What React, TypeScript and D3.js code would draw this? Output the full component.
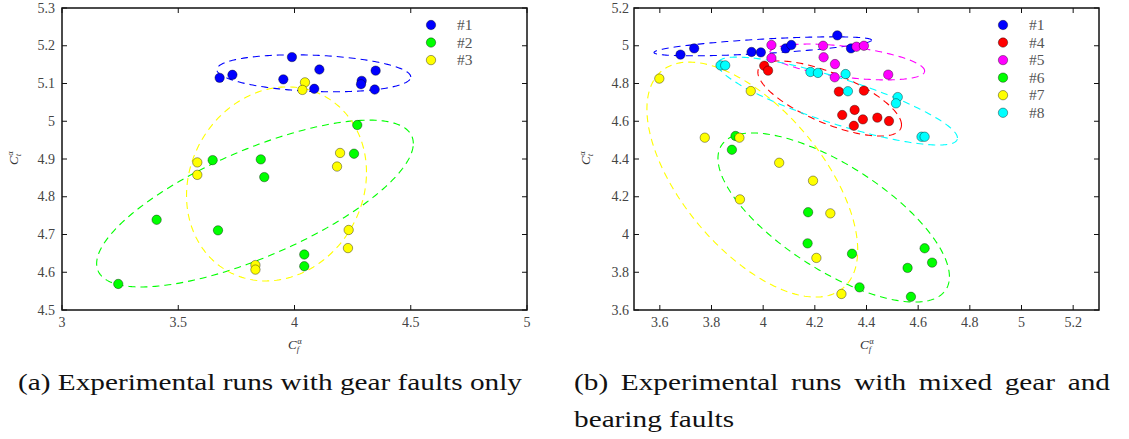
import React, { useLayoutEffect, useRef, useState } from "react";
import * as d3 from "d3";

// ---------- Panel (a): gear faults only ----------
const aRun1 = [[3.678, 5.115], [3.733, 5.123], [3.989, 5.17], [4.107, 5.137], [3.952, 5.111], [4.085, 5.086], [4.289, 5.107], [4.286, 5.098], [4.349, 5.134], [4.345, 5.084]];
const aRun2 = [[3.648, 4.897], [3.855, 4.899], [3.87, 4.852], [3.407, 4.739], [3.671, 4.711], [3.242, 4.569], [4.27, 4.99], [4.256, 4.914], [4.042, 4.647], [4.042, 4.616]];
const aRun3 = [[4.045, 5.103], [4.034, 5.083], [3.582, 4.891], [3.582, 4.858], [4.196, 4.916], [4.183, 4.88], [4.233, 4.712], [4.23, 4.664], [3.832, 4.619], [3.832, 4.607]];
// ellipse: [cx, cy, sx, sy, rho]
const aEll1 = [4.083, 5.127, 0.417, 0.049, -0.2];
const aEll2 = [3.83, 4.782, 0.681, 0.221, 0.72];
const aEll3 = [3.9226, 4.834, 0.387, 0.257, 0.12];
const aLabels = ["#1", "#2", "#3"];
const aColors = ["#0000ff", "#00ff00", "#ffff00"];
const aXTicks = [3, 3.5, 4, 4.5, 5];
const aYTicks = [4.5, 4.6, 4.7, 4.8, 4.9, 5, 5.1, 5.2, 5.3];

// ---------- Panel (b): mixed gear and bearing faults ----------
const bRun1 = [[3.68, 4.953], [3.733, 4.986], [3.955, 4.967], [3.991, 4.965], [4.087, 4.986], [4.109, 5.004], [4.287, 5.055], [4.34, 4.986]];
const bRun4 = [[4.004, 4.894], [4.019, 4.868], [4.293, 4.757], [4.306, 4.633], [4.39, 4.762], [4.354, 4.66], [4.351, 4.576], [4.386, 4.61], [4.442, 4.619], [4.487, 4.601]];
const bRun5 = [[4.032, 5.004], [4.032, 4.935], [4.232, 5.0], [4.234, 4.939], [4.278, 4.903], [4.277, 4.833], [4.361, 4.995], [4.39, 5.0], [4.484, 4.847]];
const bRun6 = [[3.893, 4.522], [3.879, 4.449], [4.174, 4.118], [4.172, 3.953], [4.344, 3.898], [4.373, 3.72], [4.625, 3.927], [4.654, 3.851], [4.559, 3.823], [4.572, 3.67]];
const bRun7 = [[3.598, 4.826], [3.952, 4.76], [3.774, 4.513], [3.908, 4.513], [4.062, 4.38], [4.193, 4.285], [3.91, 4.186], [4.26, 4.112], [4.206, 3.876], [4.303, 3.685]];
const bRun8 = [[3.835, 4.896], [3.853, 4.896], [4.183, 4.861], [4.212, 4.856], [4.319, 4.85], [4.328, 4.759], [4.521, 4.728], [4.514, 4.695], [4.613, 4.518], [4.625, 4.518]];
const bEll1 = [3.9986, 4.997, 0.421, 0.0503, 0.65];
const bEll4 = [4.2575, 4.7205, 0.278, 0.199, -0.7];
const bEll5 = [4.325, 4.914, 0.3, 0.095, -0.5];
const bEll6 = [4.273, 4.09, 0.448, 0.448, -0.7];
const bEll7 = [3.958, 4.291, 0.408, 0.6225, -0.6];
const bEll8 = [4.288, 4.707, 0.464, 0.233, -0.84];
const bLabels = ["#1", "#4", "#5", "#6", "#7", "#8"];
const bColors = ["#0000ff", "#ff0000", "#ff00ff", "#00ff00", "#ffff00", "#00ffff"];
const bXTicks = [3.6, 3.8, 4, 4.2, 4.4, 4.6, 4.8, 5, 5.2];
const bYTicks = [3.6, 3.8, 4, 4.2, 4.4, 4.6, 4.8, 5, 5.2];

const captionA = "(a) Experimental runs with gear faults only";
const captionB1 = "(b) Experimental runs with mixed gear and";
const captionB2 = "bearing faults";

const FONT = "'Liberation Serif', 'Times New Roman', serif";
const TICK_COLOR = "#444";

function ellipsePoints(e: number[]) {
  const [cx, cy, sx, sy, r] = e;
  const k = Math.sqrt(1 - r * r);
  return d3.range(0, 241).map((i) => {
    const t = (i / 240) * Math.PI * 2;
    return [cx + sx * Math.cos(t), cy + sy * (r * Math.cos(t) + k * Math.sin(t))];
  });
}

function fmt(v: number) {
  return d3.format("~g")(+v.toFixed(2));
}

function AxisLabel({ x, y, sub, rotate }: { x: number; y: number; sub: string; rotate?: boolean }) {
  return (
    <g transform={`translate(${x},${y})${rotate ? " rotate(-90)" : ""}`}>
      <text x={-6} y={0} fontFamily={FONT} fontSize={13} fill="#333">
        <tspan fontStyle="italic">C</tspan>
        <tspan dx={0.5} dy={-5} fontSize={8.5}>α</tspan>
        <tspan dx={-5} dy={8} fontSize={8.5} fontStyle="italic">{sub}</tspan>
      </text>
    </g>
  );
}

function Panel(props: {
  xDomain: number[]; yDomain: number[]; xRange: number[]; yRange: number[];
  xTicks: number[]; yTicks: number[]; series: number[][][]; ellipses: number[][];
  colors: string[]; labels: string[]; legendX: number; labelGap: number;
}) {
  const { xDomain, yDomain, xRange, yRange, xTicks, yTicks, series, ellipses, colors, labels, legendX, labelGap } = props;
  const x = d3.scaleLinear().domain(xDomain).range(xRange);
  const y = d3.scaleLinear().domain(yDomain).range(yRange);
  const line = d3.line<number[]>().x((d) => x(d[0])).y((d) => y(d[1]));
  const [x0, x1] = xRange;
  const [y0, y1] = yRange;
  const tl = 5;
  return (
    <g>
      {ellipses.map((e, i) => (
        <path key={"e" + i} d={line(ellipsePoints(e)) || ""} fill="none" stroke={colors[i]} strokeWidth={1.1} strokeDasharray="7,5" />
      ))}
      {series.map((s, i) => (
        <g key={"s" + i}>
          {s.map((d, j) => (
            <circle key={j} cx={x(d[0])} cy={y(d[1])} r={4.7} fill={colors[i]} stroke="#000" strokeOpacity={0.55} strokeWidth={0.7} />
          ))}
        </g>
      ))}
      <rect x={x0} y={y1} width={x1 - x0} height={y0 - y1} fill="none" stroke="#111" strokeWidth={1.5} />
      {xTicks.map((t) => (
        <g key={"xt" + t}>
          <line x1={x(t)} x2={x(t)} y1={y0} y2={y0 - tl} stroke="#111" strokeWidth={1} />
          <line x1={x(t)} x2={x(t)} y1={y1} y2={y1 + tl} stroke="#111" strokeWidth={1} />
          <text x={x(t)} y={y0 + 17} textAnchor="middle" fontFamily={FONT} fontSize={14} fill={TICK_COLOR}>{fmt(t)}</text>
        </g>
      ))}
      {yTicks.map((t) => (
        <g key={"yt" + t}>
          <line x1={x0} x2={x0 + tl} y1={y(t)} y2={y(t)} stroke="#111" strokeWidth={1} />
          <line x1={x1} x2={x1 - tl} y1={y(t)} y2={y(t)} stroke="#111" strokeWidth={1} />
          <text x={x0 - labelGap} y={y(t) + 4.5} textAnchor="end" fontFamily={FONT} fontSize={14} fill={TICK_COLOR}>{fmt(t)}</text>
        </g>
      ))}
      {labels.map((l, i) => (
        <g key={"lg" + i}>
          <circle cx={legendX} cy={25 + i * 17.55} r={4.7} fill={colors[i]} stroke="#000" strokeOpacity={0.55} strokeWidth={0.7} />
          <text x={legendX + 26} y={25 + i * 17.55 + 5} fontFamily={FONT} fontSize={15.5} fill="#555">{l}</text>
        </g>
      ))}
    </g>
  );
}

// caption lines: [text, x0, x1, baseline, justify]
const captionLayout: [string, number, number, number, boolean][] = [
  [captionA, 18, 522, 390, true],
  [captionB1, 574, 1110, 390, true],
  [captionB2, 574, 0, 427, false],
];

function Captions() {
  const refs = useRef<Record<string, SVGTextElement | null>>({});
  const [layout, setLayout] = useState<{ xs: number[]; ws: number[] }[] | null>(null);
  useLayoutEffect(() => {
    const nat = captionLayout.map(([t], li) => t.split(" ").map((_, wi) => {
      const el = refs.current[li + "_" + wi];
      return el ? el.getComputedTextLength() : 0;
    }));
    const spaceW = 23 * 0.25;
    const wa = nat[0];
    const s = (captionLayout[0][2] - captionLayout[0][1]) / (d3.sum(wa) + (wa.length - 1) * spaceW);
    const out = captionLayout.map(([t, x0, x1, , just], li) => {
      const ws = nat[li].map((w) => w * s);
      const gap = just ? (x1 - x0 - d3.sum(ws)) / (ws.length - 1) : spaceW * s;
      let cur = x0;
      const xs: number[] = [];
      ws.forEach((w) => { xs.push(cur); cur += w + gap; });
      return { xs, ws };
    });
    setLayout(out);
  }, []);
  return (
    <g>
      {captionLayout.map(([t, x0, , y], li) => t.split(" ").map((w, wi) => (
        <text key={li + "_" + wi}
          ref={(el) => { refs.current[li + "_" + wi] = el; }}
          x={layout ? layout[li].xs[wi] : x0 + wi * 50} y={y}
          {...(layout ? { textLength: layout[li].ws[wi], lengthAdjust: "spacingAndGlyphs" } : {})}
          fontFamily={FONT} fontSize={23} fill="#111">{w}</text>
      )))}
    </g>
  );
}

export default function App() {
  return (
    <svg width={1129} height={439} style={{ position: "absolute", left: 0, top: 0, background: "#fff" }}>
      <rect width={1129} height={439} fill="#fff" />
      <Panel xDomain={[3, 5]} yDomain={[4.5, 5.3]} xRange={[62, 527]} yRange={[310, 8]}
        xTicks={aXTicks} yTicks={aYTicks} series={[aRun1, aRun2, aRun3]} ellipses={[aEll1, aEll2, aEll3]}
        colors={aColors} labels={aLabels} legendX={431} labelGap={7} />
      <Panel xDomain={[3.5, 5.3]} yDomain={[3.6, 5.2]} xRange={[634, 1099]} yRange={[310, 8]}
        xTicks={bXTicks} yTicks={bYTicks} series={[bRun1, bRun4, bRun5, bRun6, bRun7, bRun8]}
        ellipses={[bEll1, bEll4, bEll5, bEll6, bEll7, bEll8]}
        colors={bColors} labels={bLabels} legendX={1003} labelGap={5} />
      <AxisLabel x={294} y={349} sub="f" />
      <AxisLabel x={18} y={159} sub="t" rotate />
      <AxisLabel x={866} y={349} sub="f" />
      <AxisLabel x={590} y={159} sub="t" rotate />
      <Captions />
    </svg>
  );
}
